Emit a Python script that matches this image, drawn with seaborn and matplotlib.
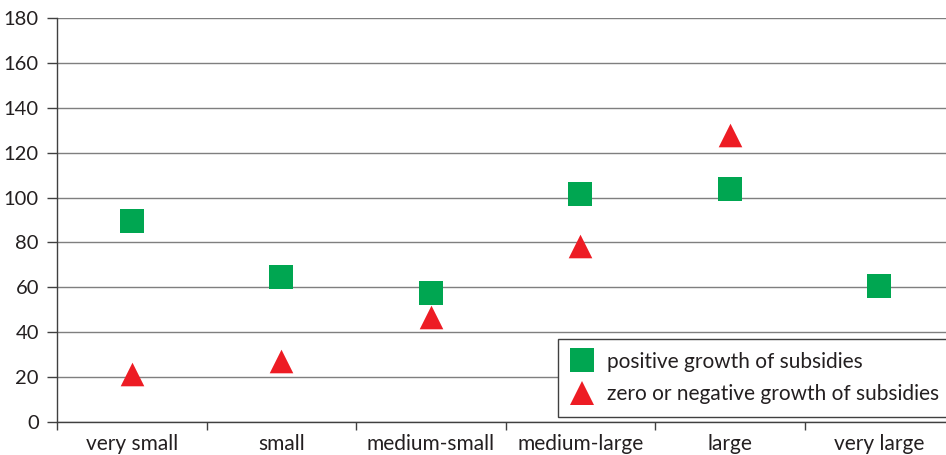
import matplotlib
matplotlib.use("Agg")
import matplotlib.pyplot as plt
from matplotlib.lines import Line2D
from matplotlib.ticker import FixedLocator
import numpy as np
import pandas as pd
import seaborn as sns

categories = ["very small", "small", "medium-small", "medium-large", "large", "very large"]
positive_growth = [89.4, 64.8, 57.5, 101.6, 103.7, 60.6]
nonpositive_growth = [21.3, 27.0, 46.6, 78.6, 127.7, np.nan]
series_labels = ["positive growth of subsidies", "zero or negative growth of subsidies"]
y_ticks = list(range(0, 181, 20))

GREEN = "#00a651"
RED = "#ed1c24"
FONT = ["Lato", "DejaVu Sans"]

sns.set_theme(style="white")
plt.rcParams["font.family"] = FONT
plt.rcParams["text.color"] = "#231f20"

pos = np.arange(len(categories))
df_pos = pd.DataFrame({"x": pos, "value": positive_growth})
df_neg = pd.DataFrame({"x": pos, "value": nonpositive_growth}).dropna()

fig = plt.figure(figsize=(9.46, 4.55), dpi=100)
W, H = 946, 455
AX_W = 897  # plot area runs slightly past the right edge of the canvas
ax = fig.add_axes([57 / W, (H - 422) / H, AX_W / W, 404 / H])

marker_area = 17.0 ** 2
sns.scatterplot(data=df_pos, x="x", y="value", marker="s", color=GREEN,
                s=marker_area, linewidth=0, ax=ax, zorder=3, legend=False)
sns.scatterplot(data=df_neg, x="x", y="value", marker="^", color=RED,
                s=marker_area, linewidth=0, ax=ax, zorder=3, legend=False)

ax.set_xlim(-0.5, len(categories) - 0.5)
ax.set_ylim(0, 180)
ax.set_xlabel("")
ax.set_ylabel("")

# y axis: gridlines every 20
ax.set_yticks(y_ticks)
ax.yaxis.grid(True, color="#7f7f7f", linewidth=1.0)
ax.set_axisbelow(True)
ax.tick_params(axis="y", which="major", length=7, width=1, color="#404040",
               direction="out", pad=6, labelsize=14.5, labelcolor="#231f20", left=True)

# x axis: labels centred in each category, tick marks between categories
ax.set_xticks(pos)
ax.set_xticklabels(categories)
ax.xaxis.set_minor_locator(FixedLocator(np.arange(-0.5, len(categories), 1.0)))
ax.tick_params(axis="x", which="major", length=0, pad=9, labelsize=15,
               labelcolor="#231f20")
ax.tick_params(axis="x", which="minor", length=6, width=1, color="#404040",
               direction="out", bottom=True)

for side in ["top", "right"]:
    ax.spines[side].set_visible(False)
for side in ["left", "bottom"]:
    ax.spines[side].set_color("#404040")
    ax.spines[side].set_linewidth(1.0)

handles = [
    Line2D([], [], marker="s", linestyle="none", markerfacecolor=GREEN,
           markeredgewidth=0, markersize=17),
    Line2D([], [], marker="^", linestyle="none", markerfacecolor=RED,
           markeredgewidth=0, markersize=17),
]
leg = ax.legend(handles, series_labels, loc="upper left",
                bbox_to_anchor=(501 / AX_W, 83 / 404, 394 / AX_W, 0),
                mode="expand", fontsize=15, frameon=True, fancybox=False,
                borderpad=0.6, labelspacing=0.62, handletextpad=0.65,
                handlelength=1.1, borderaxespad=0)
leg.get_frame().set_edgecolor("#404040")
leg.get_frame().set_linewidth(1.0)
leg.get_frame().set_facecolor("white")
leg.get_frame().set_alpha(1)

fig.savefig("out.png", dpi=100)
